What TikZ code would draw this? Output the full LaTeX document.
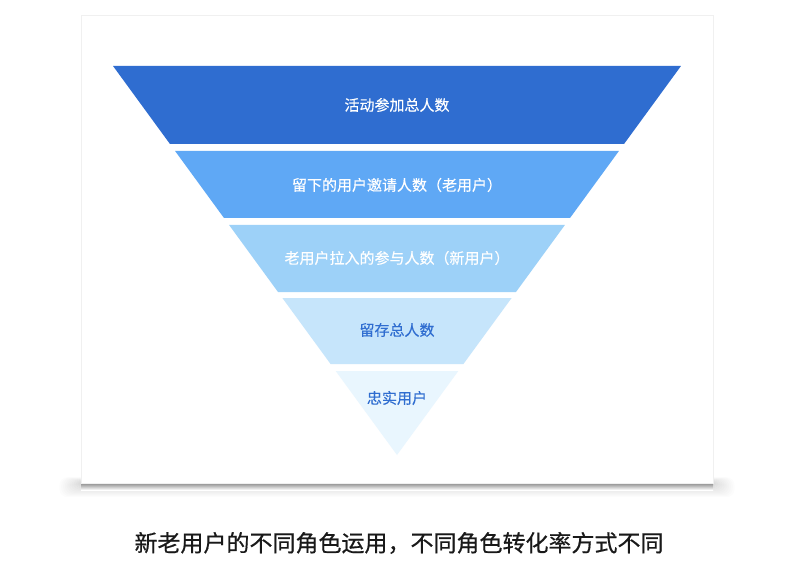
\documentclass[tikz,border=0pt]{standalone}
\usepackage{fontspec}
\newfontfamily\cjk[FakeBold=0.3]{Noto Sans CJK SC}
\newfontfamily\cjkcap[FakeBold=0.6]{Noto Sans CJK SC}
\definecolor{funnelA}{HTML}{2F6DD0}
\definecolor{funnelB}{HTML}{5FA8F5}
\definecolor{funnelC}{HTML}{9DD1F8}
\definecolor{funnelD}{HTML}{C6E5FB}
\definecolor{funnelE}{HTML}{E9F6FE}
\definecolor{cardline}{HTML}{F0F0F0}

\begin{document}
\begin{tikzpicture}[x=1pt,y=-1pt,
  bandtext/.style={font=\cjk\fontsize{15}{17}\selectfont, inner sep=0pt},
  captiontext/.style={font=\cjkcap\fontsize{23}{27}\selectfont, text=black!90, inner sep=0pt}]
  \useasboundingbox (0,0) rectangle (800,561);

  % Shadow
  \foreach \k in {1,...,12} {
    \fill[black, opacity=0.012, rounded corners=8pt]
      (81-\k*1.8, 482-\k*0.4) rectangle (713+\k*1.8, 484+\k*1.1);
  }
  \shade[top color=black!45, bottom color=white] (81,483) rectangle (713,490);

  % Card
  \draw[cardline, fill=white] (81,15) rectangle (713,483);

  % Funnel bands and their labels
  \foreach \i/\ytop/\ybot/\fillc/\txtc/\ty/\txt in {
      1/66/144/funnelA/white/105/活动参加总人数,
      2/151/218/funnelB/white/185/留下的用户邀请人数（老用户）,
      3/225/292/funnelC/white/258/老用户拉入的参与人数（新用户）,
      4/298/364/funnelD/funnelA/330/留存总人数,
      5/371/455/funnelE/funnelA/398/忠实用户} {
    \pgfmathsetmacro\wt{0.730*(455-\ytop)}
    \pgfmathsetmacro\wb{0.730*(455-\ybot)}
    \fill[\fillc] (397-\wt,\ytop) -- (397+\wt,\ytop) -- (397+\wb,\ybot) -- (397-\wb,\ybot) -- cycle;
    \node[bandtext, text=\txtc] (band\i) at (397,\ty) {\txt};
  }

  % Caption
  \node[captiontext] (caption) at (399,543) {新老用户的不同角色运用，不同角色转化率方式不同};

\end{tikzpicture}
\end{document}
